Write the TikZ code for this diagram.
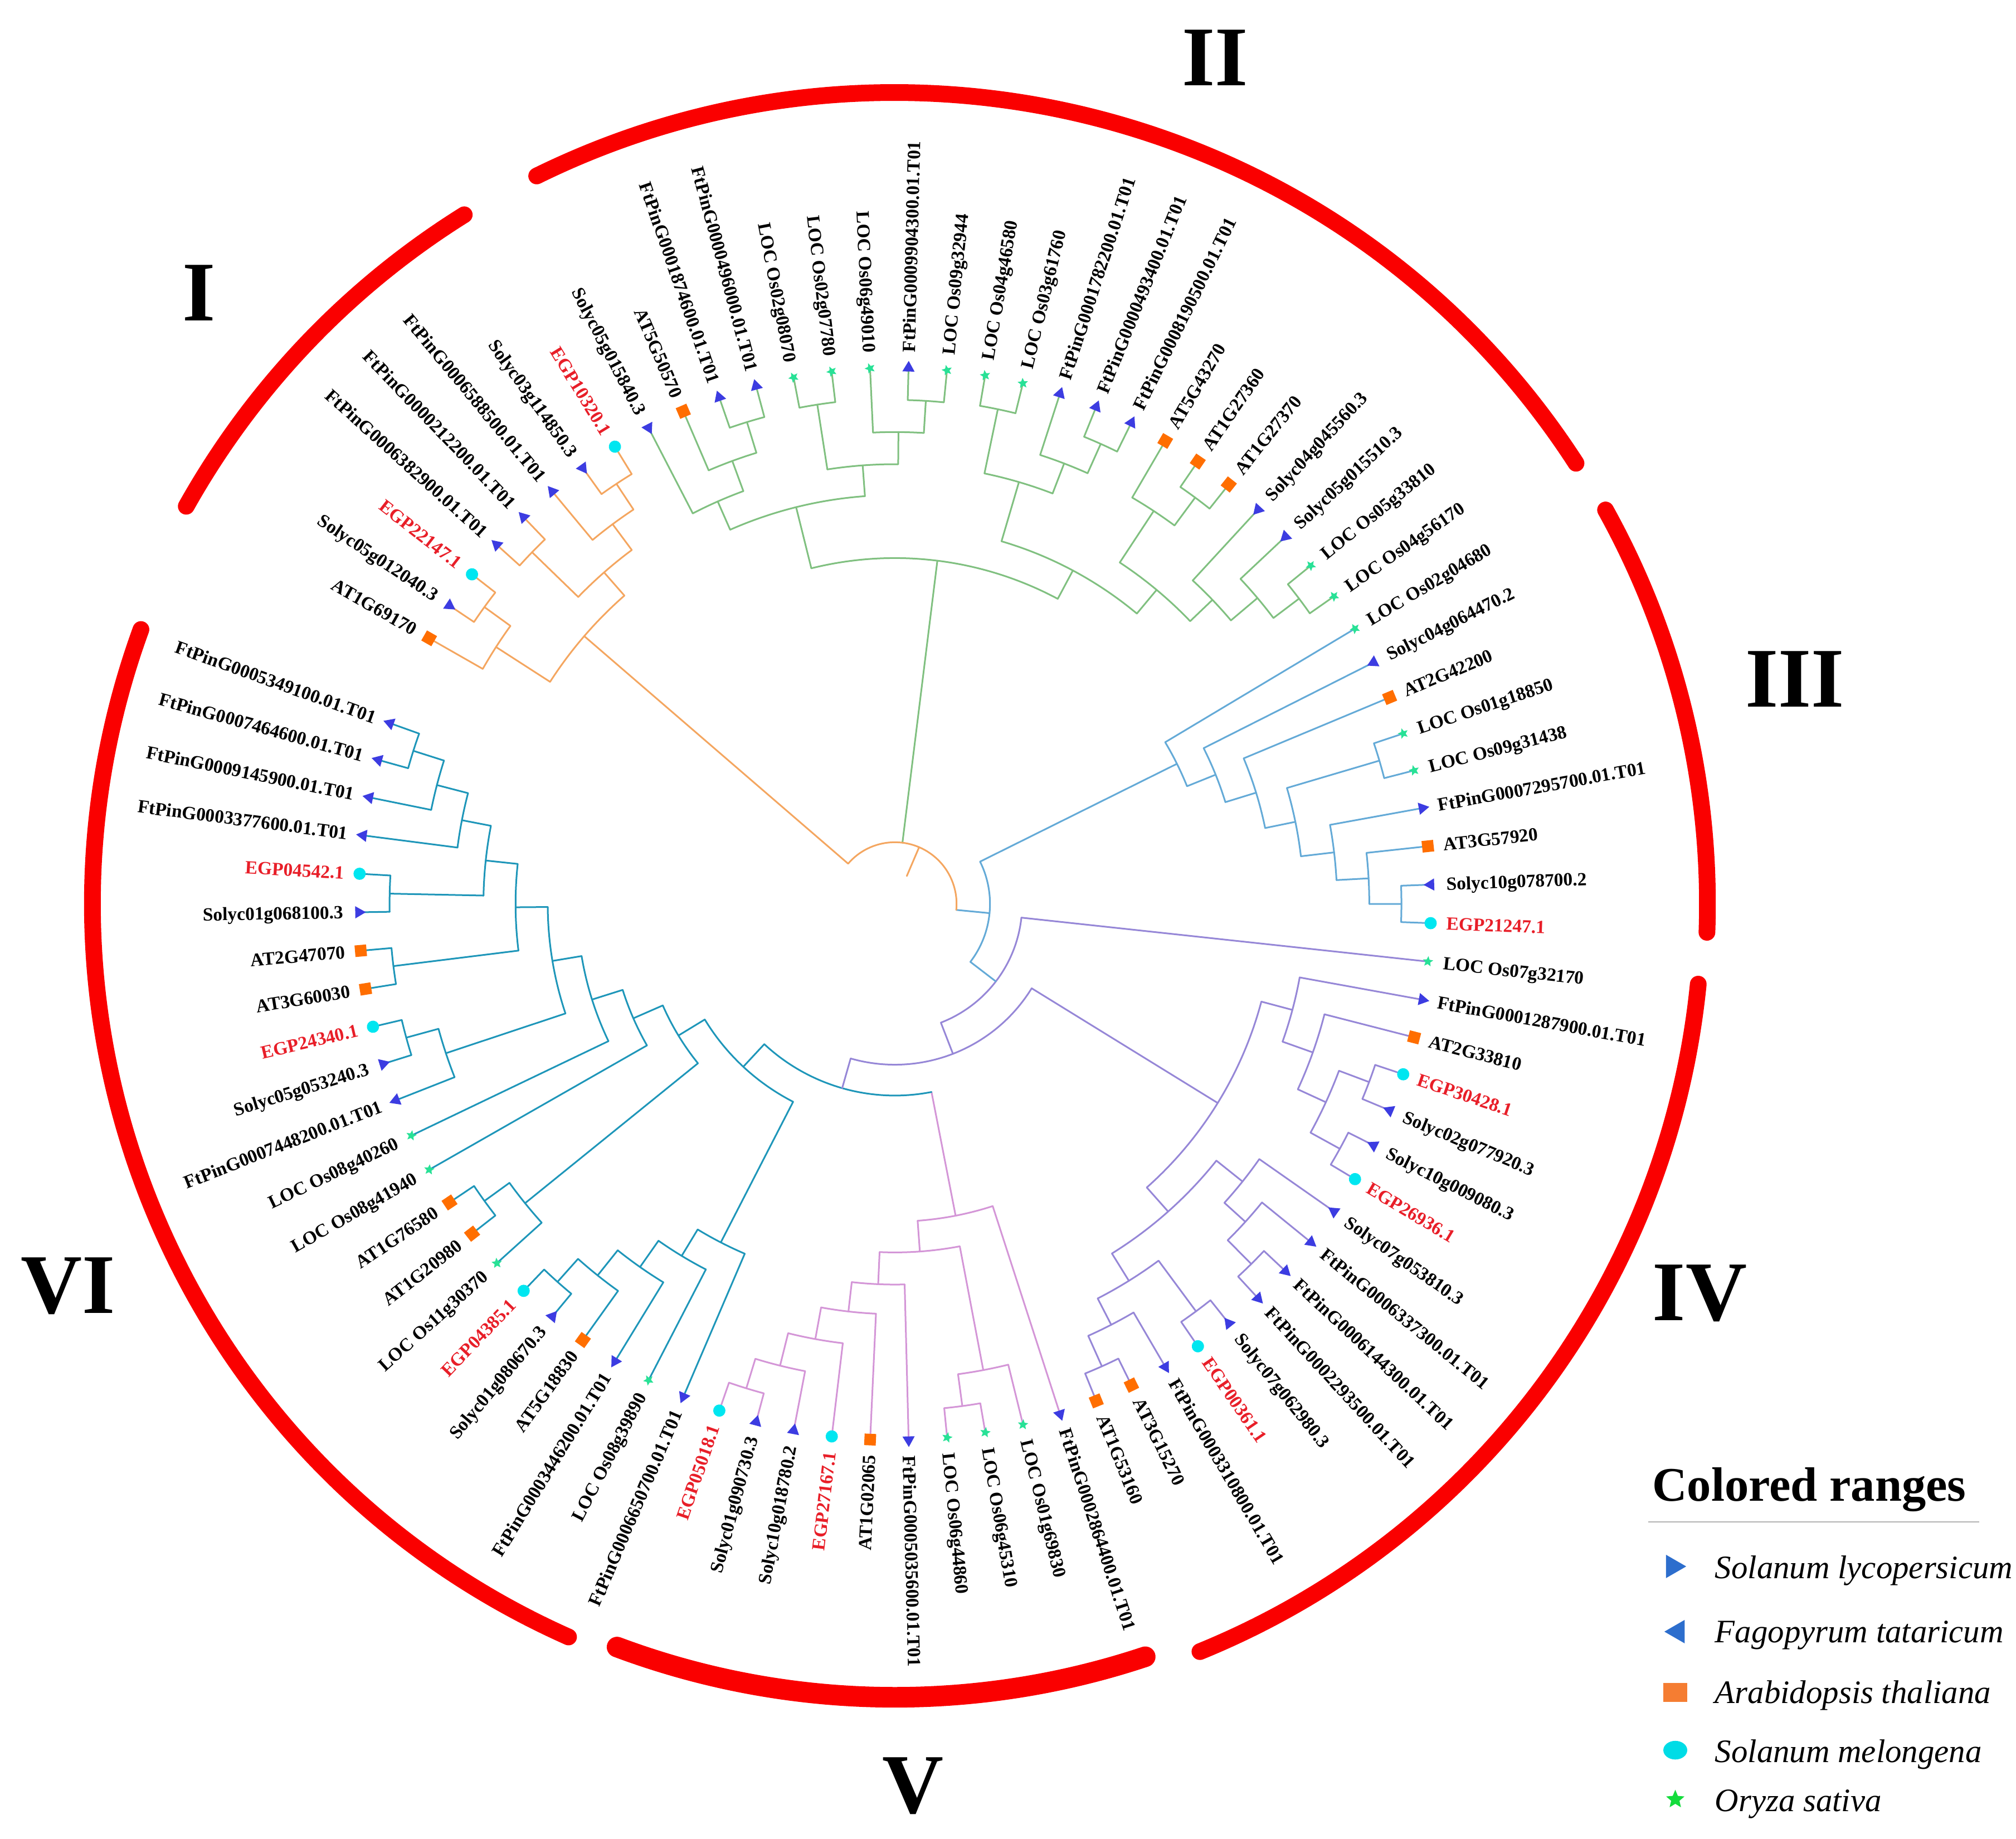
\documentclass[tikz,border=0pt]{standalone}
\usepackage{fontspec}
\setmainfont{Liberation Serif}
\usetikzlibrary{shapes.geometric}

\definecolor{corI}{RGB}{244,166,96}
\definecolor{corII}{RGB}{128,192,128}
\definecolor{corIII}{RGB}{100,170,215}
\definecolor{corIV}{RGB}{150,135,215}
\definecolor{corV}{RGB}{212,150,215}
\definecolor{corVI}{RGB}{30,150,185}
\definecolor{rngred}{RGB}{250,0,0}
\definecolor{egpred}{RGB}{232,30,40}
\definecolor{tric}{RGB}{60,60,225}
\definecolor{atc}{RGB}{255,110,0}
\definecolor{egpc}{RGB}{0,230,240}
\definecolor{locc}{RGB}{40,225,150}
\definecolor{lgblue}{RGB}{45,110,205}
\definecolor{lgorange}{RGB}{245,125,50}
\definecolor{lgcyan}{RGB}{0,220,230}
\definecolor{lggreen}{RGB}{20,220,60}

% radial stem of a child down to radius #2
\newcommand\brstem[2]{%
  \edef\angA{\csname ang@#1\endcsname}%
  \edef\colA{\csname col@#1\endcsname}%
  \draw[br,color=\colA] (#1) -- (\angA:#2pt);}
% inner node #1 joining #2 and #3 at radius #4, colour \brc
\newcommand\brjoin[4]{%
  \brstem{#2}{#4}\let\angB\angA
  \brstem{#3}{#4}%
  \pgfmathsetmacro\angM{(\angB+\angA)/2}%
  \expandafter\xdef\csname ang@#1\endcsname{\angM}%
  \expandafter\xdef\csname col@#1\endcsname{\brc}%
  \draw[br,color=\brc] (\angB:#4pt) arc[start angle=\angB, end angle=\angA, radius=#4pt];
  \coordinate (#1) at (\angM:#4pt);}
% recolour the stem of an inner node
\newcommand\brrecol[2]{\expandafter\xdef\csname col@#1\endcsname{#2}}

\tikzset{
  br/.style={line width=1.3pt, line cap=round, line join=round},
  rng/.style={rngred, line width=13pt, line cap=round},
  lab/.style={font=\fontsize{14.5}{16}\selectfont\bfseries, inner sep=0pt, text height=9.6pt, text depth=0pt},
  num/.style={font=\fontsize{66}{68}\selectfont\bfseries, inner sep=0pt},
  lgt/.style={font=\fontsize{25.5}{27}\selectfont\itshape, inner sep=0pt, anchor=base west},
  mkat/.style={rectangle, fill=atc, minimum size=9pt, inner sep=0pt},
  mkegp/.style={circle, fill=egpc, minimum size=9.5pt, inner sep=0pt},
  mkloc/.style={star, star points=5, star point ratio=2.2, fill=locc, minimum size=8.5pt, inner sep=0pt},
  mkftp/.style={regular polygon, regular polygon sides=3, regular polygon rotate=-90, fill=tric, minimum size=11pt, inner sep=0pt},
  mksly/.style={regular polygon, regular polygon sides=3, regular polygon rotate=90, fill=tric, minimum size=11pt, inner sep=0pt},
  lcat/.style={}, lcloc/.style={}, lcftp/.style={}, lcsly/.style={},
  lcegp/.style={text=egpred}
}

\begin{document}
\begin{tikzpicture}
\useasboundingbox (-696pt,-727pt) rectangle (872pt,703pt);

% coloured ranges
\draw[rng] (150.7:632pt) arc[start angle=150.7, end angle=122, radius=632pt];
\draw[rng] (116.2:631pt) arc[start angle=116.2, end angle=32.9, radius=631pt];
\draw[rng] (29:632pt) arc[start angle=29, end angle=-2, radius=632pt];
\draw[rng] (-5.7:628pt) arc[start angle=-5.7, end angle=-67.8, radius=628pt];
\draw[rng, line width=16pt] (-110.5:617pt) arc[start angle=-110.5, end angle=-71.6, radius=617pt];
\draw[rng] (160:624pt) arc[start angle=160, end angle=246, radius=624pt];

\node[num] (nI) at (-541pt,475pt) {I};
\node[num] (nII) at (249pt,658pt) {II};
\node[num] (nIII) at (700pt,175pt) {III};
\node[num] (nIV) at (626pt,-303pt) {IV};
\node[num] (nV) at (14pt,-686pt) {V};
\node[num] (nVI) at (-643pt,-297pt) {VI};

% leaf tips
\foreach \ix in {0,...,85}{
  \pgfmathsetmacro\lfang{150.3-350/85*\ix}
  \coordinate (L\ix) at (\lfang:417pt);
  \expandafter\xdef\csname ang@L\ix\endcsname{\lfang}
  \ifnum\ix<8 \gdef\brcol{corI}\else\ifnum\ix<29 \gdef\brcol{corII}\else
  \ifnum\ix<38 \gdef\brcol{corIII}\else\ifnum\ix<54 \gdef\brcol{corIV}\else
  \ifnum\ix<64 \gdef\brcol{corV}\else\gdef\brcol{corVI}\fi\fi\fi\fi\fi
  \expandafter\xdef\csname col@L\ix\endcsname{\brcol}
}

% clade I
\def\brc{corI}
\brjoin{E}{L1}{L2}{394}
\brjoin{F}{L0}{E}{369}
\brjoin{C}{L3}{L4}{393}
\brjoin{A}{L6}{L7}{392}
\brjoin{B}{L5}{A}{368}
\brjoin{D}{C}{B}{343}
\brjoin{GI}{F}{D}{319}

% clade II
\def\brc{corII}
\brjoin{n1011}{L10}{L11}{392}
\brjoin{g1a}{L9}{n1011}{367}
\brjoin{g1}{L8}{g1a}{342}
\brjoin{n1213}{L12}{L13}{393}
\brjoin{n1516}{L15}{L16}{392}
\brjoin{g2b}{L14}{n1516}{367}
\brjoin{g2}{n1213}{g2b}{342}
\brjoin{gl}{g1}{g2}{318}
\brjoin{n1718}{L17}{L18}{393}
\brjoin{n2021}{L20}{L21}{392}
\brjoin{r1b}{L19}{n2021}{367}
\brjoin{r1}{n1718}{r1b}{342}
\brjoin{n2324}{L23}{L24}{393}
\brjoin{r2a}{L22}{n2324}{366}
\brjoin{n2728}{L27}{L28}{394}
\brjoin{r2c}{L26}{n2728}{369}
\brjoin{r2b}{L25}{r2c}{342}
\brjoin{r2}{r2a}{r2b}{318}
\brjoin{gr}{r1}{r2}{294}
\brjoin{G0}{gl}{gr}{269}

% clade III
\def\brc{corIII}
\brjoin{n3637}{L36}{L37}{394}
\brjoin{n35}{L35}{n3637}{369}
\brjoin{n34}{L34}{n35}{344}
\brjoin{n3233}{L32}{L33}{393}
\brjoin{n3237}{n3233}{n34}{318}
\brjoin{n31}{L31}{n3237}{294}
\brjoin{n30}{L30}{n31}{269}
\brjoin{n29}{L29}{n30}{245}

% clade IV
\def\brc{corIV}
\brjoin{n4142}{L41}{L42}{394}
\brjoin{n4344}{L43}{L44}{395}
\brjoin{n4144}{n4142}{n4344}{369}
\brjoin{n40}{L40}{n4144}{345}
\brjoin{n39}{L39}{n40}{320}
\brjoin{n4748}{L47}{L48}{394}
\brjoin{n46}{L46}{n4748}{368}
\brjoin{n45}{L45}{n46}{346}
\brjoin{n4950}{L49}{L50}{394}
\brjoin{n5253}{L52}{L53}{394}
\brjoin{n51}{L51}{n5253}{368}
\brjoin{n4953}{n4950}{n51}{345}
\brjoin{lowIV}{n45}{n4953}{320}
\brjoin{MIV}{n39}{lowIV}{295}

% clade V
\def\brc{corV}
\brjoin{n6263}{L62}{L63}{394}
\brjoin{n61}{L61}{n6263}{370}
\brjoin{n60}{L60}{n61}{344}
\brjoin{n59}{L59}{n60}{319}
\brjoin{n58}{L58}{n59}{296}
\brjoin{n5657}{L56}{L57}{394}
\brjoin{n55}{L55}{n5657}{369}
\brjoin{v2}{n58}{n55}{271}
\brjoin{V0}{L54}{v2}{247}

% clade VI
\def\brc{corVI}
\brjoin{n6869}{L68}{L69}{394}
\brjoin{n67}{L67}{n6869}{370}
\brjoin{n66}{L66}{n67}{345}
\brjoin{n65}{L65}{n66}{320}
\brjoin{n64}{L64}{n65}{296}
\brjoin{n7172}{L71}{L72}{394}
\brjoin{n70}{L70}{n7172}{370}
\brjoin{n8485}{L84}{L85}{393}
\brjoin{n83}{L83}{n8485}{368}
\brjoin{n82}{L82}{n83}{343}
\brjoin{n8081}{L80}{L81}{393}
\brjoin{n8085}{n8081}{n82}{320}
\brjoin{n7879}{L78}{L79}{393}
\brjoin{a4}{n7879}{n8085}{295}
\brjoin{n7677}{L76}{L77}{394}
\brjoin{n75}{L75}{n7677}{368}
\brjoin{a3}{n75}{a4}{270}
\brjoin{a2}{L74}{a3}{247}
\brjoin{a1}{L73}{a2}{222}
\brjoin{VIup}{n70}{a1}{197}
\brjoin{VI0}{n64}{VIup}{173}

% backbone
\def\brc{corVI}
\brjoin{VVI}{V0}{VI0}{149}
\brrecol{VVI}{corIV}
\def\brc{corIV}
\brjoin{R3}{MIV}{VVI}{125}
\brjoin{R2}{L38}{R3}{99}
\brrecol{R2}{corIII}
\def\brc{corIII}
\brjoin{R1}{n29}{R2}{74}

% root
\brstem{G0}{48}
\brstem{R1}{48}\let\angB\angA
\brstem{GI}{48}
\pgfmathsetmacro\angM{(\angA+\angB)/2}
\coordinate (root) at (\angM:23.6pt);
\draw[br,corI] (\angA:48pt) arc[start angle=\angA, end angle=\angB, radius=48pt];
\draw[br,corI] (root) -- (\angM:48pt);

% tip symbols and names
\foreach \ix/\lbl/\kd in {0/AT1G69170/at, 1/Solyc05g012040.3/sly, 2/EGP22147.1/egp,
  3/FtPinG0006382900.01.T01/ftp, 4/FtPinG0000212200.01.T01/ftp, 5/FtPinG0006588500.01.T01/ftp,
  6/Solyc03g114850.3/sly, 7/EGP10320.1/egp, 8/Solyc05g015840.3/sly, 9/AT5G50570/at,
  10/FtPinG0001874600.01.T01/ftp, 11/FtPinG0000496000.01.T01/ftp, 12/LOC Os02g08070/loc,
  13/LOC Os02g07780/loc, 14/LOC Os06g49010/loc, 15/FtPinG0009904300.01.T01/ftp,
  16/LOC Os09g32944/loc, 17/LOC Os04g46580/loc, 18/LOC Os03g61760/loc,
  19/FtPinG0001782200.01.T01/ftp, 20/FtPinG0000493400.01.T01/ftp, 21/FtPinG0008190500.01.T01/ftp,
  22/AT5G43270/at, 23/AT1G27360/at, 24/AT1G27370/at, 25/Solyc04g045560.3/sly,
  26/Solyc05g015510.3/sly, 27/LOC Os05g33810/loc, 28/LOC Os04g56170/loc, 29/LOC Os02g04680/loc,
  30/Solyc04g064470.2/sly, 31/AT2G42200/at, 32/LOC Os01g18850/loc, 33/LOC Os09g31438/loc,
  34/FtPinG0007295700.01.T01/ftp, 35/AT3G57920/at, 36/Solyc10g078700.2/sly, 37/EGP21247.1/egp,
  38/LOC Os07g32170/loc, 39/FtPinG0001287900.01.T01/ftp, 40/AT2G33810/at, 41/EGP30428.1/egp,
  42/Solyc02g077920.3/sly, 43/Solyc10g009080.3/sly, 44/EGP26936.1/egp, 45/Solyc07g053810.3/sly,
  46/FtPinG0006337300.01.T01/ftp, 47/FtPinG0006144300.01.T01/ftp, 48/FtPinG0002293500.01.T01/ftp,
  49/Solyc07g062980.3/sly, 50/EGP00361.1/egp, 51/FtPinG0003310800.01.T01/ftp, 52/AT3G15270/at,
  53/AT1G53160/at, 54/FtPinG0002864400.01.T01/ftp, 55/LOC Os01g69830/loc, 56/LOC Os06g45310/loc,
  57/LOC Os06g44860/loc, 58/FtPinG0005035600.01.T01/ftp, 59/AT1G02065/at, 60/EGP27167.1/egp,
  61/Solyc10g018780.2/sly, 62/Solyc01g090730.3/sly, 63/EGP05018.1/egp,
  64/FtPinG0006650700.01.T01/ftp, 65/LOC Os08g39890/loc, 66/FtPinG0003446200.01.T01/ftp,
  67/AT5G18830/at, 68/Solyc01g080670.3/sly, 69/EGP04385.1/egp, 70/LOC Os11g30370/loc,
  71/AT1G20980/at, 72/AT1G76580/at, 73/LOC Os08g41940/loc, 74/LOC Os08g40260/loc,
  75/FtPinG0007448200.01.T01/ftp, 76/Solyc05g053240.3/sly, 77/EGP24340.1/egp, 78/AT3G60030/at,
  79/AT2G47070/at, 80/Solyc01g068100.3/sly, 81/EGP04542.1/egp, 82/FtPinG0003377600.01.T01/ftp,
  83/FtPinG0009145900.01.T01/ftp, 84/FtPinG0007464600.01.T01/ftp, 85/FtPinG0005349100.01.T01/ftp}{
  \pgfmathsetmacro\lfang{150.3-350/85*\ix}
  \node[mk\kd, rotate=\lfang] (m\ix) at (L\ix) {};
  \ifnum\ix<15 \def\flp{1}\else\ifnum\ix>58 \def\flp{1}\else\def\flp{0}\fi\fi
  \ifnum\flp=1
    \pgfmathsetmacro\lfrot{\lfang+180}
    \node[lab, lc\kd, anchor=east, rotate=\lfrot] (t\ix) at (\lfang:429pt) {\lbl};
  \else
    \node[lab, lc\kd, anchor=west, rotate=\lfang] (t\ix) at (\lfang:429pt) {\lbl};
  \fi
}

% legend
\node[font=\fontsize{37.5}{40}\selectfont\bfseries, inner sep=0pt, anchor=base west] (lgtitle) at (589pt,-464.4pt) {Colored ranges};
\draw[gray!60, line width=1.2pt] (585.9pt,-480.6pt) -- (843.4pt,-480.6pt);
\node[regular polygon, regular polygon sides=3, regular polygon rotate=-90, fill=lgblue, minimum size=21pt, inner sep=0pt] (k1) at (605pt,-515.2pt) {};
\node[regular polygon, regular polygon sides=3, regular polygon rotate=90, fill=lgblue, minimum size=21pt, inner sep=0pt] (k2) at (609pt,-565.9pt) {};
\node[rectangle, fill=lgorange, minimum width=18.6pt, minimum height=14.5pt, inner sep=0pt] (k3) at (607pt,-613.2pt) {};
\node[ellipse, fill=lgcyan, minimum width=18.6pt, minimum height=14.5pt, inner sep=0pt] (k4) at (607pt,-658.1pt) {};
\node[star, star points=5, star point ratio=2.2, fill=lggreen, minimum size=15pt, inner sep=0pt] (k5) at (607pt,-696.4pt) {};
\node[lgt] (k1t) at (637.7pt,-524.5pt) {Solanum lycopersicum};
\node[lgt] (k2t) at (637.7pt,-574.2pt) {Fagopyrum tataricum};
\node[lgt] (k3t) at (637.7pt,-621.5pt) {Arabidopsis thaliana};
\node[lgt] (k4t) at (637.7pt,-667.5pt) {Solanum melongena};
\node[lgt] (k5t) at (637.7pt,-705.8pt) {Oryza sativa};
\end{tikzpicture}
\end{document}
